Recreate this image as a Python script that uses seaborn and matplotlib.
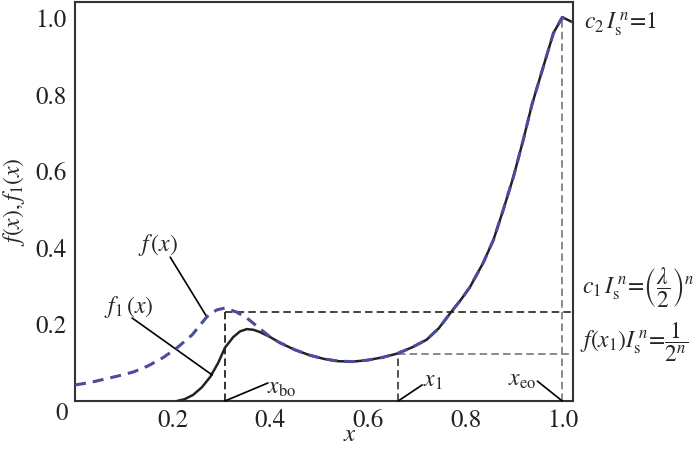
import numpy as np
import pandas as pd
import matplotlib

matplotlib.use("Agg")
import matplotlib.pyplot as plt
import seaborn as sns

# f(x) (dashed blue)
x_f = [0.0, 0.03, 0.06, 0.09, 0.12, 0.15, 0.18, 0.21, 0.24, 0.27, 0.29, 0.307,
       0.33, 0.352, 0.376, 0.40, 0.42, 0.45, 0.48, 0.51, 0.54, 0.57, 0.60, 0.63,
       0.66, 0.69, 0.72, 0.745, 0.77, 0.79, 0.809, 0.836, 0.857, 0.877, 0.898,
       0.918, 0.936, 0.959, 0.98, 0.998, 1.018]
y_f = [0.042, 0.048, 0.057, 0.066, 0.076, 0.092, 0.113, 0.140, 0.173, 0.220,
       0.238, 0.243, 0.233, 0.217, 0.192, 0.167, 0.152, 0.134, 0.120, 0.110,
       0.104, 0.103, 0.107, 0.114, 0.124, 0.140, 0.160, 0.190, 0.232, 0.264,
       0.298, 0.361, 0.421, 0.499, 0.586, 0.682, 0.775, 0.873, 0.962, 1.003,
       0.991]

# f1(x) rising part; joins f(x) from x = 0.40
x_f1_head = [0.209, 0.225, 0.242, 0.26, 0.277, 0.293, 0.307, 0.324, 0.338,
             0.352, 0.366, 0.379, 0.392]
y_f1_head = [0.0, 0.005, 0.016, 0.036, 0.063, 0.099, 0.139, 0.167, 0.182,
             0.188, 0.186, 0.180, 0.172]

# marker positions
x_bo, x_1, x_eo = 0.307, 0.662, 0.998
y_c1, y_fx1, y_c2 = 0.233, 0.123, 1.0

x_ticks = [0.2, 0.4, 0.6, 0.8, 1.0]
y_ticks = [0.2, 0.4, 0.6, 0.8, 1.0]

sns.set_theme(style="white")
plt.rcParams["font.family"] = ["STIXGeneral", "Liberation Serif", "DejaVu Serif"]
plt.rcParams["mathtext.fontset"] = "stix"

df_f = pd.DataFrame({"x": x_f, "y": y_f})
tail = df_f[df_f["x"] >= 0.40]
df_f1 = pd.DataFrame({"x": x_f1_head + tail["x"].tolist(),
                      "y": y_f1_head + tail["y"].tolist()})

fig = plt.figure(figsize=(7, 4.5), dpi=100)
ax = fig.add_axes([75 / 700, 1 - 401 / 450, 498 / 700, 399 / 450])
x_max, y_max = 1.02, 1.043

sns.lineplot(data=df_f1, x="x", y="y", sort=False, ax=ax, color="#222222", lw=1.8, zorder=3)
sns.lineplot(data=df_f, x="x", y="y", sort=False, ax=ax, color="#4B4BA0", lw=2.2, zorder=4)
ax.lines[-1].set_dashes((3.6, 2.3))

# guide lines
dash = (4.5, 2.5)
ax.plot([x_bo, x_bo], [0, y_c1], color="#111111", lw=1.2, dashes=dash)
ax.plot([x_bo, x_max], [y_c1, y_c1], color="#222222", lw=1.2, dashes=dash)
ax.plot([x_1, x_1], [0, y_fx1], color="#333333", lw=1.2, dashes=dash)
ax.plot([x_1, x_max], [y_fx1, y_fx1], color="#777777", lw=1.2, dashes=dash)
ax.plot([x_eo, x_eo], [0, y_c2], color="#777777", lw=1.2, dashes=dash)

# leader lines and labels
fs = 17
leaders = [
    (r"$f\,(x)$", (0.170, 0.408), (0.195, 0.376), (0.270, 0.220)),
    (r"$f_1\,(x)$", (0.109, 0.246), (0.117, 0.217), (0.281, 0.068)),
    (r"$x_{\rm bo}$", (0.424, 0.034), (0.395, 0.047), (x_bo, 0)),
    (r"$x_1$", (0.732, 0.052), (0.711, 0.042), (x_1, 0)),
    (r"$x_{\rm eo}$", (0.916, 0.055), (0.947, 0.052), (x_eo, 0)),
]
for label, txt_pos, start, end in leaders:
    ax.annotate("", xy=end, xytext=start, annotation_clip=False,
                arrowprops=dict(arrowstyle="-", color="black", lw=1.2,
                                shrinkA=0, shrinkB=0))
    ax.text(*txt_pos, label, fontsize=fs, ha="center", va="center")

# right-hand formulas
fig.text(584 / 700, 1 - 24 / 450, r"$c_2\,I_{\rm s}^{\,n}\!=\!1$", fontsize=fs, va="center")
fig.text(582 / 700, 1 - 288 / 450, r"$c_1\,I_{\rm s}^{\,n}\!=\!\left(\dfrac{\lambda}{2}\right)^{n}$",
         fontsize=fs, va="center")
fig.text(580 / 700, 1 - 342 / 450, r"$f(x_1)I_{\rm s}^{\,n}\!=\!\dfrac{1}{2^n}$",
         fontsize=fs, va="center")
fig.text(62 / 700, 1 - 414 / 450, "0", fontsize=fs + 1, ha="center", va="center")

ax.set_xlim(0, x_max)
ax.set_ylim(0, y_max)
ax.set_xticks(x_ticks)
ax.set_xticklabels([f"{v:.1f}" for v in x_ticks])
ax.set_yticks(y_ticks)
ax.set_yticklabels([f"{v:.1f}" for v in y_ticks])
ax.tick_params(direction="in", length=5, width=1.2, labelsize=fs + 1, colors="#333333",
               labelcolor="#222222", pad=6)
for s in ax.spines.values():
    s.set_color("#333333")
    s.set_linewidth(1.5)
ax.set_xlabel("x", fontsize=fs + 1, style="italic", va="center")
ax.xaxis.set_label_coords((349 - 75) / 498, -0.085)
ax.set_ylabel(r"$f(x),f_1(x)$", fontsize=fs, labelpad=6)

fig.savefig("out.png", dpi=100)
plt.close(fig)
